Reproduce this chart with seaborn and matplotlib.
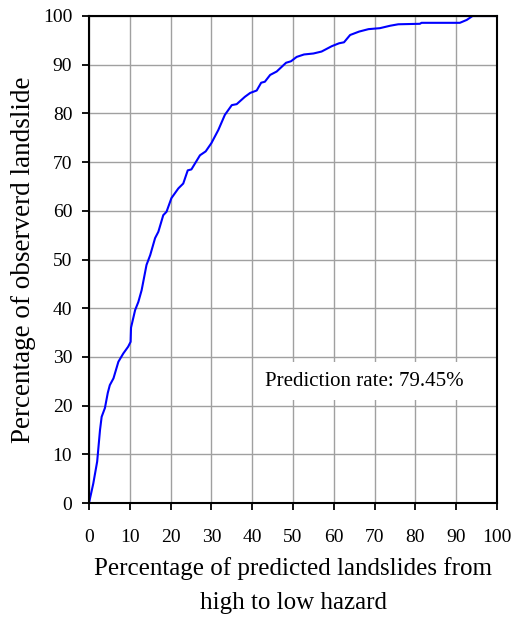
import matplotlib
matplotlib.use("Agg")
import matplotlib.pyplot as plt
import seaborn as sns
import pandas as pd

# Data
pct_predicted = [0, 1.05, 2.0, 2.7, 3.1, 3.9, 4.6, 5.1, 6.0, 7.2, 8.4, 9.6, 10.2, 10.3,
                 11.3, 12.1, 12.9, 14.1, 15.0, 16.2, 17.0, 18.2, 19.0, 20.2, 21.9, 23.1,
                 24.2, 25.1, 27.2, 28.6, 30.0, 31.7, 33.3, 35.0, 36.2, 38.2, 39.5, 41.1,
                 42.2, 43.1, 44.4, 46.0, 48.3, 49.5, 50.9, 52.7, 55.0, 57.0, 59.5, 61.3,
                 62.5, 64.0, 66.2, 68.5, 71.3, 73.8, 75.8, 81.1, 81.5, 90.9, 92.6, 94.0, 100]
pct_observed = [0, 4.0, 8.5, 15.0, 17.7, 19.5, 22.6, 24.2, 25.6, 29.0, 30.7, 32.1, 33.1, 36.0,
                39.6, 41.3, 43.7, 48.9, 50.9, 54.4, 55.7, 59.1, 59.8, 62.6, 64.6, 65.6,
                68.3, 68.5, 71.4, 72.2, 73.9, 76.6, 79.7, 81.7, 81.9, 83.4, 84.2, 84.7,
                86.3, 86.5, 87.9, 88.6, 90.4, 90.7, 91.6, 92.1, 92.3, 92.7, 93.8, 94.4,
                94.6, 96.1, 96.8, 97.3, 97.5, 98.0, 98.3, 98.4, 98.6, 98.6, 99.2, 100, 100]
tick_values = list(range(0, 101, 10))
annotation_text = "Prediction rate: 79.45%"

df = pd.DataFrame({"predicted": pct_predicted, "observed": pct_observed})

sns.set_style("white")
plt.rcParams["font.family"] = ["Liberation Serif", "DejaVu Serif"]

fig = plt.figure(figsize=(5.15, 6.19), dpi=100)
ax = fig.add_axes([89 / 515, 1 - 503 / 619, (497 - 89) / 515, (503 - 16) / 619])

sns.lineplot(data=df, x="predicted", y="observed", ax=ax, color="#0000FF",
             linewidth=1.5, sort=False, estimator=None)

ax.set_xlim(0, 100)
ax.set_ylim(0, 100)
ax.set_xticks(tick_values)
ax.set_yticks(tick_values)
ax.set_xticklabels([str(t) for t in tick_values], fontsize=14)
ax.set_yticklabels([str(t) for t in tick_values], fontsize=14)
ax.grid(True, color="#A0A0A0", linewidth=1.0)
ax.set_axisbelow(True)
for s in ax.spines.values():
    s.set_color("black")
    s.set_linewidth(1.5)
ax.tick_params(axis="both", direction="out", length=5, width=1.3, color="black",
               bottom=True, left=True, labelcolor="black")
ax.tick_params(axis="x", pad=14)
ax.tick_params(axis="y", pad=7)

ax.set_xlabel("Percentage of predicted landslides from\nhigh to low hazard", fontsize=18,
              linespacing=1.7, labelpad=8, color="black")
ax.set_ylabel("Percentage of observerd landslide", fontsize=19.5, labelpad=5, color="black")

ax.text(67.6, 25, annotation_text, fontsize=15, ha="center", va="center", color="black",
        bbox=dict(facecolor="white", edgecolor="none", boxstyle="square,pad=0.45"))

fig.savefig("out.png", dpi=100)
